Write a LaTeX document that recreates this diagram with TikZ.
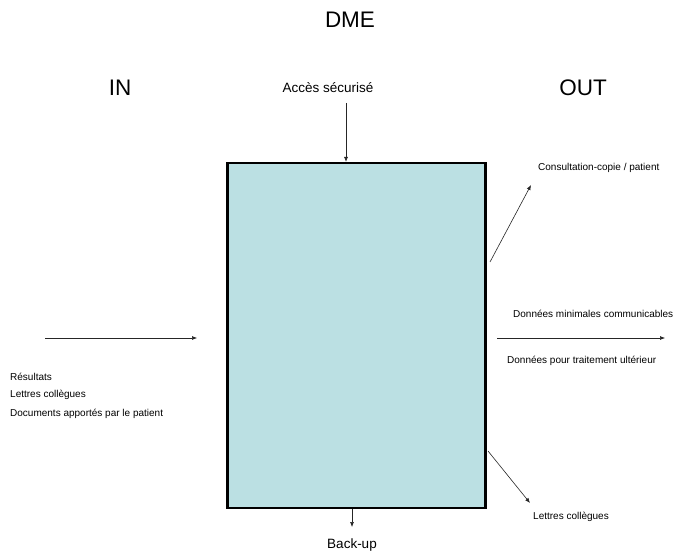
\documentclass[tikz,border=0pt]{standalone}
\usepackage{fontspec}
\setmainfont{Liberation Sans}
\usetikzlibrary{arrows.meta}
\begin{document}
\begin{tikzpicture}[x=1pt,y=-1pt,
  title/.style={font=\fontsize{22.5}{24}\selectfont, inner sep=0pt},
  mid/.style={font=\fontsize{13.5}{15}\selectfont, inner sep=0pt},
  small/.style={font=\fontsize{10}{12}\selectfont, inner sep=0pt, anchor=west},
  arr/.style={-{Latex[length=5pt,width=4pt]}, line width=0.6pt, black!85},
  dme/.style={draw=black, line width=2.2pt, fill=boxfill}]
\definecolor{boxfill}{HTML}{BBE0E3}
\useasboundingbox (0,0) rectangle (675,553);
\node[title] (dmet) at (350,20) {DME};
\node[title] (in) at (120,88) {IN};
\node[title] (out) at (583,88) {OUT};
\node[dme, minimum width=258pt, minimum height=345pt, inner sep=0pt] (box) at (356.5,335.5) {};
\node[mid] (acces) at (328,88) {Accès sécurisé};
\coordinate (a1) at (346,103);
\draw[arr] (a1) -- (box.north -| a1);
\coordinate (l1) at (45,338);
\coordinate (l2) at (197,338);
\draw[arr] (l1) -- (l2);
\node[small] (res) at (10,377) {Résultats};
\node[small] (lc) at (10,395) {Lettres collègues};
\node[small] (doc) at (10,414) {Documents apportés par le patient};
\coordinate (r1s) at (490,262);
\coordinate (r1e) at (531,185);
\draw[arr] (r1s) -- (r1e);
\node[small] (cons) at (538,168) {Consultation-copie / patient};
\coordinate (r2s) at (497,338);
\coordinate (r2e) at (665,338);
\draw[arr] (r2s) -- (r2e);
\node[small] (dmc) at (513,314) {Données minimales communicables};
\node[small] (dtu) at (507,361) {Données pour traitement ultérieur};
\coordinate (r3s) at (488,451);
\coordinate (r3e) at (530,503);
\draw[arr] (r3s) -- (r3e);
\node[small] (lc2) at (533,517) {Lettres collègues};
\coordinate (b1) at (352,527);
\draw[arr] (box.south -| b1) -- (b1);
\node[mid] (backup) at (352,545) {Back-up};
\end{tikzpicture}
\end{document}
